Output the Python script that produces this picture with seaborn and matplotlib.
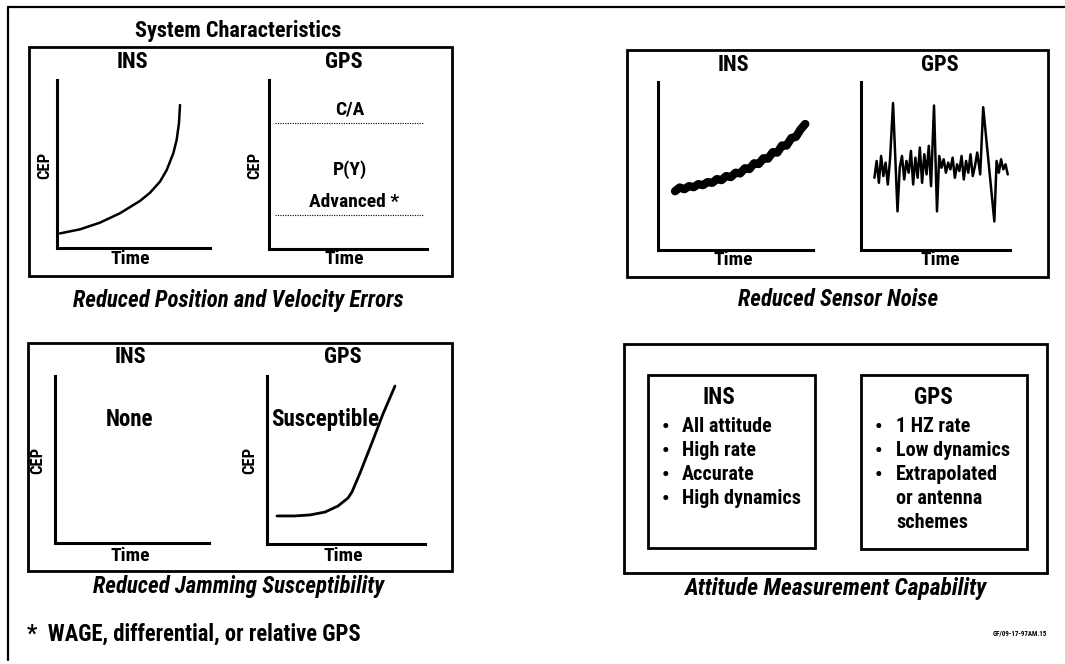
import matplotlib
matplotlib.use("Agg")
import matplotlib.pyplot as plt
import seaborn as sns
from matplotlib.patches import Rectangle

sns.set_style("white")
plt.rcParams['font.family'] = ['Roboto Condensed', 'DejaVu Sans']
plt.rcParams['text.color'] = 'black'

W, H = 1065, 664

## curve data (time, CEP) in axis units 0..10 ##
ins_pos_t = [0.2, 1.5, 2.81, 4.12, 5.42, 6.08, 6.73, 7.17, 7.6, 7.82, 7.97, 8.04]
ins_pos_cep = [0.87, 1.11, 1.51, 2.07, 2.8, 3.29, 3.95, 4.64, 5.63, 6.43, 7.42, 8.51]

gps_levels = {'C/A': 7.46, 'Advanced *': 2.0}

ins_noise_t = [1.1, 1.4, 1.7, 2.0, 2.3, 2.6, 2.9, 3.2, 3.5, 3.8, 4.1, 4.4, 4.7, 5.0, 5.3,
               5.6, 5.9, 6.2, 6.5, 6.8, 7.1, 7.4, 7.7, 8.0, 8.3, 8.6, 8.9, 9.2, 9.5]
ins_noise_val = [3.5, 3.72, 3.62, 3.8, 3.74, 3.92, 3.86, 4.04, 4.0, 4.22, 4.16, 4.4, 4.34, 4.6, 4.56,
                 4.86, 4.82, 5.16, 5.12, 5.46, 5.44, 5.82, 5.8, 6.22, 6.22, 6.66, 6.74, 7.18, 7.5]

gps_noise_t = [0.9, 1.05, 1.2, 1.35, 1.5, 1.65, 1.8, 1.95, 2.15, 2.45, 2.6, 2.75, 2.9, 3.05,
               3.2, 3.35, 3.5, 3.65, 3.8, 3.95, 4.1, 4.25, 4.4, 4.55, 4.7, 4.9, 5.1, 5.25,
               5.4, 5.55, 5.7, 5.85, 6.0, 6.15, 6.3, 6.45, 6.6, 6.75, 6.9, 7.05, 7.2, 7.35,
               7.5, 7.65, 7.8, 8.0, 8.2, 8.95, 9.1, 9.25, 9.4, 9.55, 9.7, 9.85]
gps_noise_val = [4.3, 5.3, 4.0, 5.6, 4.4, 5.2, 3.9, 5.4, 8.75, 2.3, 4.9, 5.6, 4.2, 5.3,
                 4.6, 5.9, 3.9, 5.5, 4.3, 6.1, 4.0, 5.7, 4.5, 6.2, 3.8, 8.6, 2.3, 5.6,
                 4.9, 5.4, 4.6, 5.2, 4.8, 5.5, 4.3, 5.1, 4.7, 5.6, 4.2, 5.3, 4.6, 5.7,
                 4.4, 5.0, 5.8, 4.5, 8.5, 1.7, 5.3, 4.6, 5.4, 4.8, 5.1, 4.5]

jam_t = [0.63, 1.77, 2.72, 3.67, 4.49, 5.13, 5.38, 5.89, 6.71, 7.34, 8.1]
jam_cep = [1.67, 1.67, 1.73, 1.9, 2.26, 2.74, 3.1, 4.23, 6.19, 7.74, 9.4]

ins_bullets = [['All attitude'], ['High rate'], ['Accurate'], ['High dynamics']]
gps_bullets = [['1 HZ rate'], ['Low dynamics'], ['Extrapolated', 'or antenna', 'schemes']]

fig = plt.figure(figsize=(W / 100, H / 100), dpi=100)
# full-figure axes in pixel units for boxes and labels
bg = fig.add_axes([0, 0, 1, 1])
bg.set_xlim(0, W)
bg.set_ylim(H, 0)
bg.axis('off')

WT = 'black'
bold = dict(fontweight=WT, ha='center', va='center', color='black')


def box(x0, y0, x1, y1, lw=2.0):
    bg.add_patch(Rectangle((x0, y0), x1 - x0, y1 - y0, fill=False, lw=lw, ec='black'))


def px_axes(x0, y0, x1, y1):
    ax = fig.add_axes([x0 / W, 1 - y1 / H, (x1 - x0) / W, (y1 - y0) / H])
    ax.set_facecolor('none')
    ax.set_xlim(0, 10)
    ax.set_ylim(0, 10)
    ax.set_xticks([])
    ax.set_yticks([])
    sns.despine(ax=ax)
    for s in ['left', 'bottom']:
        ax.spines[s].set_linewidth(2.2)
        ax.spines[s].set_color('black')
    return ax


def bullets(items, x_dot, x_txt, y0, step=24):
    yy = y0
    for lines in items:
        bg.text(x_dot, yy, '\u2022', fontsize=15, **bold)
        for ln in lines:
            bg.text(x_txt, yy, ln, fontsize=14.5, fontweight=WT, ha='left', va='center')
            yy += step


# outer frame
bg.plot([8, 8], [7, 660], color='black', lw=1.6)
bg.plot([8, 1065], [7, 7], color='black', lw=1.6)

# ---- panel 1: position / velocity errors ----
bg.text(238, 31, 'System Characteristics', fontsize=16, **bold)
box(29, 47, 452, 276)
bg.text(132, 62, 'INS', fontsize=16, **bold)
bg.text(344, 62, 'GPS', fontsize=16, **bold)
ax1 = px_axes(57, 80, 210, 248)
sns.lineplot(x=ins_pos_t, y=ins_pos_cep, ax=ax1, color='black', lw=1.8, sort=False)
ax2 = px_axes(269, 80, 427, 249)
for name, lvl in gps_levels.items():
    ax2.hlines(lvl, 0.38, 9.8, colors='black', lw=0.8, linestyles=(0, (1, 1.2)))
ax2.text(5.1, 8.25, 'C/A', fontsize=14, **bold)
ax2.text(5.1, 4.7, 'P(Y)', fontsize=14, **bold)
ax2.text(5.4, 2.8, 'Advanced *', fontsize=14, **bold)
bg.text(45, 165, 'CEP', fontsize=12, rotation=90, **bold)
bg.text(255, 165, 'CEP', fontsize=12, rotation=90, **bold)
bg.text(130, 259, 'Time', fontsize=14, **bold)
bg.text(344, 259, 'Time', fontsize=14, **bold)
bg.text(238, 300, 'Reduced Position and Velocity Errors', fontsize=16.5, style='italic', **bold)

# ---- panel 2: sensor noise ----
box(627, 50, 1048, 277)
bg.text(733, 65, 'INS', fontsize=16, **bold)
bg.text(940, 65, 'GPS', fontsize=16, **bold)
ax3 = px_axes(658, 82, 813, 250)
sns.lineplot(x=ins_noise_t, y=ins_noise_val, ax=ax3, color='black', lw=6, sort=False)
ax4 = px_axes(861, 82, 1010, 250)
sns.lineplot(x=gps_noise_t, y=gps_noise_val, ax=ax4, color='black', lw=1.8, sort=False)
bg.text(733, 260, 'Time', fontsize=14, **bold)
bg.text(940, 260, 'Time', fontsize=14, **bold)
bg.text(838, 300, 'Reduced Sensor Noise', fontsize=16.5, style='italic', **bold)

# ---- panel 3: jamming ----
box(28, 343, 452, 571)
bg.text(130, 357, 'INS', fontsize=16, **bold)
bg.text(343, 357, 'GPS', fontsize=16, **bold)
ax5 = px_axes(55, 376, 209, 543)
ax5.text(4.87, 7.4, 'None', fontsize=16.5, **bold)
ax6 = px_axes(267, 376, 425, 544)
sns.lineplot(x=jam_t, y=jam_cep, ax=ax6, color='black', lw=2.0, sort=False)
ax6.text(3.7, 7.44, 'Susceptible', fontsize=16.5, **bold)
bg.text(38, 460, 'CEP', fontsize=12, rotation=90, **bold)
bg.text(250, 460, 'CEP', fontsize=12, rotation=90, **bold)
bg.text(130, 556, 'Time', fontsize=14, **bold)
bg.text(343, 556, 'Time', fontsize=14, **bold)
bg.text(239, 587, 'Reduced Jamming Susceptibility', fontsize=16.5, style='italic', **bold)

# ---- panel 4: attitude ----
box(624, 344, 1047, 573)
box(648, 375, 815, 548)
box(861, 375, 1027, 549)
bg.text(719, 398, 'INS', fontsize=16.5, **bold)
bg.text(933, 398, 'GPS', fontsize=16.5, **bold)
bullets(ins_bullets, 665, 682, 427)
bullets(gps_bullets, 878, 896, 427)
bg.text(835, 589, 'Attitude Measurement Capability', fontsize=17, style='italic', **bold)

# footnote
bg.text(27, 634, '*  WAGE, differential, or relative GPS', fontsize=16.3,
        fontweight=WT, ha='left', va='center')
bg.text(1020, 633, 'GF/09-17-97AM.15', fontsize=5, **bold)

fig.savefig('out.png', dpi=100)
